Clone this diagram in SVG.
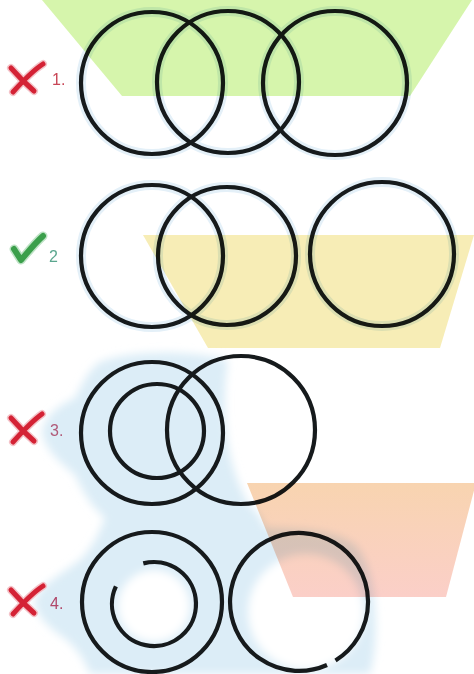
<svg xmlns="http://www.w3.org/2000/svg" width="474" height="674" viewBox="0 0 474 674">
<defs>
<filter id="soft" x="-20%" y="-20%" width="140%" height="140%"><feGaussianBlur stdDeviation="4"/></filter>
<filter id="mark" x="-30%" y="-30%" width="160%" height="160%"><feGaussianBlur stdDeviation="0.7"/></filter>
<linearGradient id="salmon" x1="0" y1="0" x2="0" y2="1">
<stop offset="0" stop-color="#f8d4b0"/>
<stop offset="1" stop-color="#fbcfc8"/>
</linearGradient>
<style>
.c{fill:none;stroke:#161a1c;stroke-width:4.2}
.h{fill:none;stroke:#e4f0f8;stroke-width:10}
.band{mix-blend-mode:multiply}
.lbl{font-family:"Liberation Sans",Arial,sans-serif;font-size:16px}
.x{fill:none;stroke:#d42434;stroke-width:5;stroke-linecap:round}
.xh{fill:none;stroke:#f4c4ca;stroke-width:8;stroke-linecap:round}
</style>
</defs>
<rect width="474" height="674" fill="#ffffff"/>

<!-- blue background blob behind rows 3 and 4 -->
<g id="blob">
<path d="M100,362 C130,350 190,350 228,360 C222,400 222,460 250,506 C258,512 262,520 265,528 C300,530 330,528 355,545 C378,570 380,640 370,674 L90,674 C85,660 75,645 60,635 C45,625 33,610 35,600 C40,585 60,575 80,560 C95,545 100,530 105,518 C90,505 82,490 75,475 C60,462 45,450 42,432 C45,415 60,405 75,398 C82,385 88,370 100,362 Z" fill="#dcedf7" filter="url(#soft)"/>
<circle cx="154" cy="606" r="36" fill="#ffffff" filter="url(#soft)"/>
<circle cx="306" cy="612" r="58" fill="#ffffff" filter="url(#soft)"/>
</g>

<!-- halos -->
<g id="halos">
<circle class="h" cx="152" cy="83" r="71"/><circle class="h" cx="228" cy="82" r="71"/><circle class="h" cx="335" cy="83" r="72"/>
<circle class="h" cx="152" cy="256" r="71"/><circle class="h" cx="227" cy="256" r="69"/><circle class="h" cx="382" cy="254" r="72"/>
</g>

<g id="row1">
<circle class="c" cx="152" cy="83" r="71"/>
<circle class="c" cx="228" cy="82" r="71"/>
<circle class="c" cx="335" cy="83" r="72"/>
<g filter="url(#mark)"><path class="xh" d="M11,68 C18,76 26,84 34,91 M13,92 C22,82 32,71 43,64"/><path class="x" d="M11,68 C18,76 26,84 34,91 M13,92 C22,82 32,71 43,64"/></g>
<text class="lbl" x="52" y="85" fill="#c84656">1.</text>
</g>

<g id="row2">
<circle class="c" cx="152" cy="256" r="71"/>
<circle class="c" cx="227" cy="256" r="69"/>
<circle class="c" cx="382" cy="254" r="72"/>
<g filter="url(#mark)"><path d="M14,249 L21,260 C28,252 35,243 43,236" fill="none" stroke="#bfe3c6" stroke-width="9" stroke-linecap="round" stroke-linejoin="round"/><path d="M14,249 L21,260 C28,252 35,243 43,236" fill="none" stroke="#3b9f4c" stroke-width="6" stroke-linecap="round" stroke-linejoin="round"/></g>
<text class="lbl" x="49" y="262" fill="#5aa68e" font-size="15">2</text>
</g>

<g id="row3">
<circle class="c" cx="152" cy="433" r="71"/>
<circle class="c" cx="157" cy="431" r="47"/>
<circle class="c" cx="241" cy="430" r="74"/>
<g filter="url(#mark)"><path class="xh" d="M11,418 C18,426 26,434 34,441 M13,442 C22,432 32,421 42,414"/><path class="x" d="M11,418 C18,426 26,434 34,441 M13,442 C22,432 32,421 42,414"/></g>
<text class="lbl" x="50" y="436" fill="#b05a78">3.</text>
</g>

<g id="row4">
<circle class="c" cx="152" cy="602" r="70"/>
<path class="c" d="M143.3,563.4 A42,42 0 1 1 115.9,586.3"/>
<path class="c" d="M335.5,660.5 A69,69 0 1 0 327.0,665.0"/>
<g filter="url(#mark)"><path class="xh" d="M11,590 C18,598 26,606 34,613 M13,614 C22,604 32,593 43,586"/><path class="x" d="M11,590 C18,598 26,606 34,613 M13,614 C22,604 32,593 43,586"/></g>
<text class="lbl" x="50" y="609" fill="#b0486a">4.</text>
</g>

<!-- coloured bands -->
<g id="bands">
<polygon class="band" points="42,0 472,0 410,96 122,96" fill="#d6f5ac"/>
<polygon class="band" points="143,235 474,235 440,348 208,348" fill="#f7edb6"/>
<polygon class="band" points="247,483 476,483 446,597 293,597" fill="url(#salmon)"/>
</g>
</svg>
